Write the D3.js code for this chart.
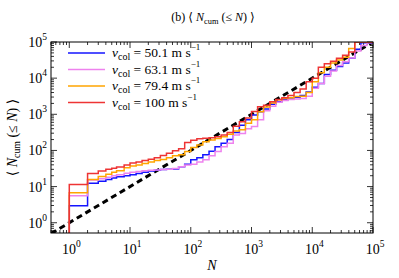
<!DOCTYPE html>
<html>
<head>
<meta charset="utf-8">
<script src="https://cdn.jsdelivr.net/npm/d3@7"></script>
<style>
  body { margin: 0; background: #fff; }
  svg text { font-family: "Liberation Serif", "DejaVu Serif", serif !important; }
</style>
</head>
<body>
<svg id="mainsvg" width="399" height="278"></svg>
<script>
// cumulative counts, one value per N step
const nValues = [1, 2, 3, 4, 5, 6, 8, 10,
  12.6, 15.8, 20, 25.1, 31.6, 39.8, 50.1, 63.1, 79.4, 100,
  126, 158, 200, 251, 316, 398, 501, 631, 794, 1000,
  1260, 1580, 2000, 2510, 3160, 3980, 5010, 6310, 7940, 10000,
  12600, 15800, 20000, 25100, 31600, 39800, 50100, 63100, 79400, 100000];
const blue50 = [2.95, 12.3, 14.1, 15.8, 17.4, 18.6, 20, 21.4,
  22.9, 25.1, 26.9, 28.2, 29.5, 30.2, 30.9, 35.5, 41.7, 55,
  63.1, 75.9, 95.5, 126, 158, 200, 316, 501, 708, 955,
  1170, 1410, 1910, 2240, 2510, 2820, 2950, 3310, 4170, 5620,
  7080, 12600, 16600, 20900, 26300, 35500, 63100, 95500, 95500, 95500];
const violet63 = [5.62, 15.1, 16.6, 18.2, 20, 21.4, 23.4, 25.1,
  26.3, 27.5, 28.2, 28.8, 29.5, 30.2, 31.6, 35.5, 39.8, 41.7,
  47.9, 55, 70.8, 93.3, 126, 158, 269, 295, 398, 457,
  708, 1260, 1660, 2140, 2400, 2570, 2630, 2750, 3160, 5250,
  7080, 11200, 15800, 22400, 28200, 36300, 56200, 79400, 95500, 95500];
const orange79 = [6.76, 15.8, 19.1, 21.9, 25.1, 27.5, 33.1, 37.2,
  39.8, 43.7, 47.9, 52.5, 56.2, 63.1, 70.8, 75.9, 93.3, 120,
  141, 174, 195, 214, 240, 282, 347, 372, 562, 708,
  1170, 1580, 2040, 2510, 2750, 2880, 3090, 3160, 3980, 7940,
  14100, 20000, 26300, 31600, 38000, 66100, 100000, 100000, 100000, 100000];
const red100 = [11.5, 22.9, 26.9, 30.2, 32.4, 34.7, 39.8, 44.7,
  47.9, 52.5, 57.5, 63.1, 72.4, 83.2, 97.7, 112, 166, 191,
  209, 219, 224, 240, 269, 316, 468, 617, 794, 1200,
  1620, 1780, 2240, 2570, 2880, 3310, 3980, 5010, 7940, 10000,
  20000, 25100, 29500, 35500, 42700, 52500, 100000, 100000, 100000, 100000];
const seriesNames = ["50.1", "63.1", "79.4", "100"];
const seriesColors = ["#1414ff", "#ee82ee", "#ffa500", "#ee3434"];
const seriesValues = [blue50, violet63, orange79, red100];
const tickExps = [0, 1, 2, 3, 4, 5];

const svg = d3.select('#mainsvg');
const margin = { top: 42, right: 26, bottom: 45, left: 51 };
const width = +svg.attr('width');
const height = +svg.attr('height');
const innerWidth = width - margin.left - margin.right;
const innerHeight = height - margin.top - margin.bottom;

const x = d3.scaleLog().domain([0.5, 1e5]).range([0, innerWidth]);
const y = d3.scaleLog().domain([0.52, 1e5]).range([innerHeight, 0]);

const g = svg.append('g').attr('transform', `translate(${margin.left}, ${margin.top})`);

svg.append('defs').append('clipPath').attr('id', 'clip')
  .append('rect').attr('width', innerWidth).attr('height', innerHeight);

// minor and major ticks, inward on all four sides
const minor = [];
for (let e = -1; e <= 5; e++) for (let m = 1; m < 10; m++) minor.push(m * Math.pow(10, e));
const xMinor = minor.filter(v => v >= 0.5 && v <= 1e5);
const yMinor = minor.filter(v => v >= 0.52 && v <= 1e5);

function tickLen(v) { return Math.abs(Math.log10(v) - Math.round(Math.log10(v))) < 1e-9 ? 6 : 3; }

const ticks = g.append('g').attr('stroke', '#000').attr('stroke-width', 0.8);
xMinor.forEach(v => {
  const L = tickLen(v);
  ticks.append('line').attr('x1', x(v)).attr('x2', x(v)).attr('y1', innerHeight).attr('y2', innerHeight - L);
  ticks.append('line').attr('x1', x(v)).attr('x2', x(v)).attr('y1', 0).attr('y2', L);
});
yMinor.forEach(v => {
  const L = tickLen(v);
  ticks.append('line').attr('y1', y(v)).attr('y2', y(v)).attr('x1', 0).attr('x2', L);
  ticks.append('line').attr('y1', y(v)).attr('y2', y(v)).attr('x1', innerWidth).attr('x2', innerWidth - L);
});

// tick labels: "10" plus a raised exponent
tickExps.forEach(e => {
  const t = g.append('text').attr('x', x(Math.pow(10, e)) + 2).attr('y', innerHeight + 21)
    .attr('text-anchor', 'middle').style('font-size', '14px');
  t.append('tspan').text('10');
  t.append('tspan').attr('dy', -7).style('font-size', '9.5px').text(e);
  const ty = g.append('text').attr('x', -4).attr('y', y(Math.pow(10, e)) + 5)
    .attr('text-anchor', 'end').style('font-size', '14px');
  ty.append('tspan').text('10');
  ty.append('tspan').attr('dy', -7).style('font-size', '9.5px').text(e);
});

// y = x reference
const lineGen = d3.line().x(d => x(d[0])).y(d => y(d[1]));
g.append('path').attr('clip-path', 'url(#clip)')
  .attr('d', lineGen([[0.5, 0.5], [1e5, 1e5]]))
  .attr('fill', 'none').attr('stroke', '#000').attr('stroke-width', 3)
  .attr('stroke-dasharray', '6,4');

// step curves
const stepGen = d3.line().x(d => x(d[0])).y(d => y(d[1])).curve(d3.curveStepAfter);
seriesValues.forEach((vals, i) => {
  const pts = [[1, 0.52]].concat(nValues.map((n, j) => [n, vals[j]]));
  g.append('path').attr('clip-path', 'url(#clip)')
    .attr('d', stepGen(pts))
    .attr('fill', 'none').attr('stroke', seriesColors[i]).attr('stroke-width', 1.5);
});

// legend
seriesNames.forEach((name, i) => {
  const ly = 11 + i * 16.5;
  g.append('line').attr('x1', 17).attr('x2', 54).attr('y1', ly).attr('y2', ly)
    .attr('stroke', seriesColors[i]).attr('stroke-width', 1.5);
  const t = g.append('text').attr('x', 61).attr('y', ly + 4).style('font-size', '13.5px');
  t.append('tspan').style('font-style', 'italic').text('v');
  t.append('tspan').attr('dy', 3).style('font-size', '10px').text('col');
  t.append('tspan').attr('dy', -3).text(` = ${name} m s`);
  t.append('tspan').attr('dy', -7).style('font-size', '9px').text('\u22121');
});

// frame
g.append('rect').attr('width', innerWidth).attr('height', innerHeight)
  .attr('fill', 'none').attr('stroke', '#000').attr('stroke-width', 1);

// title and axis labels
function bracketLabel(sel, prefix) {
  if (prefix) sel.append('tspan').text(prefix);
  sel.append('tspan').text('\u27e8 ');
  sel.append('tspan').style('font-style', 'italic').text('N');
  sel.append('tspan').attr('dy', 3).style('font-size', '0.7em').text('cum');
  sel.append('tspan').attr('dy', -3).text(' (\u2264 ');
  sel.append('tspan').style('font-style', 'italic').text('N');
  sel.append('tspan').text(') \u27e9');
}
bracketLabel(svg.append('text').attr('x', 213).attr('y', 21)
  .attr('text-anchor', 'middle').style('font-size', '12px'), '(b) ');

bracketLabel(svg.append('text')
  .attr('transform', `translate(17, ${margin.top + innerHeight / 2}) rotate(-90)`)
  .attr('text-anchor', 'middle').style('font-size', '14px'), '');

svg.append('text').attr('x', 212).attr('y', 270)
  .attr('text-anchor', 'middle').style('font-size', '14px').style('font-style', 'italic').text('N');
</script>
</body>
</html>
